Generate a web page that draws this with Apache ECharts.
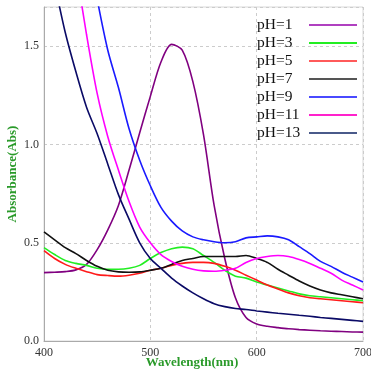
<!DOCTYPE html>
<html>
<head>
<meta charset="utf-8">
<script src="https://cdn.jsdelivr.net/npm/echarts@6/dist/echarts.min.js"></script>
<style>
  html, body { margin: 0; padding: 0; background: #fff; }
  #chart { width: 371px; height: 370px; }
</style>
</head>
<body>
<div id="chart"></div>
<script>
// wavelength grid (nm), every 10 nm
const wavelengths = [400, 410, 420, 430, 440, 450, 460, 470, 480, 490, 500, 510, 520, 530, 540, 550,
  560, 570, 580, 590, 600, 610, 620, 630, 640, 650, 660, 670, 680, 690, 700]

const xTicks = [400, 500, 600, 700]
const yTicks = [0.0, 0.5, 1.0, 1.5]

// absorbance per pH (null = above the frame, not visible)
const ph1 = [0.348, 0.35, 0.353, 0.362, 0.39, 0.465, 0.566, 0.69, 0.87, 1.06, 1.245, 1.42, 1.51, 1.48, 1.32, 1.05,
  0.69, 0.42, 0.22, 0.12, 0.087, 0.075, 0.068, 0.062, 0.058, 0.055, 0.052, 0.05, 0.048, 0.046, 0.045]
const ph3 = [0.475, 0.44, 0.41, 0.395, 0.385, 0.37, 0.365, 0.365, 0.37, 0.385, 0.42, 0.45, 0.47, 0.478, 0.47, 0.435,
  0.4, 0.36, 0.33, 0.32, 0.3, 0.285, 0.27, 0.255, 0.24, 0.23, 0.225, 0.22, 0.215, 0.21, 0.205]
const ph5 = [0.46, 0.42, 0.39, 0.37, 0.353, 0.338, 0.333, 0.33, 0.335, 0.345, 0.36, 0.37, 0.385, 0.395, 0.4, 0.4,
  0.395, 0.38, 0.36, 0.335, 0.31, 0.285, 0.265, 0.245, 0.23, 0.22, 0.215, 0.21, 0.205, 0.2, 0.195]
const ph7 = [0.555, 0.515, 0.475, 0.445, 0.41, 0.38, 0.36, 0.352, 0.35, 0.352, 0.36, 0.37, 0.39, 0.41, 0.42, 0.43,
  0.43, 0.43, 0.43, 0.435, 0.42, 0.4, 0.365, 0.335, 0.305, 0.28, 0.26, 0.245, 0.235, 0.225, 0.215]
const ph9 = [null, null, null, null, null, 1.74, 1.48, 1.29, 1.08, 0.92, 0.79, 0.68, 0.61, 0.56, 0.53, 0.515,
  0.505, 0.5, 0.505, 0.525, 0.53, 0.535, 0.53, 0.515, 0.48, 0.445, 0.405, 0.38, 0.35, 0.325, 0.3]
const ph11 = [null, null, null, 1.9, 1.56, 1.26, 1.04, 0.87, 0.71, 0.58, 0.5, 0.44, 0.405, 0.38, 0.365, 0.357,
  0.355, 0.36, 0.37, 0.4, 0.42, 0.43, 0.435, 0.43, 0.415, 0.395, 0.37, 0.345, 0.31, 0.285, 0.26]
const ph13 = [null, 1.82, 1.57, 1.37, 1.19, 1.055, 0.9, 0.745, 0.62, 0.5, 0.42, 0.37, 0.32, 0.28, 0.245, 0.215,
  0.19, 0.175, 0.165, 0.16, 0.153, 0.147, 0.141, 0.136, 0.131, 0.126, 0.12, 0.115, 0.11, 0.105, 0.1]

const seriesNames = ['pH=1', 'pH=3', 'pH=5', 'pH=7', 'pH=9', 'pH=11', 'pH=13']
const seriesValues = [ph1, ph3, ph5, ph7, ph9, ph11, ph13]
const lineColors = ['#800080', '#22ee22', '#ff1a1a', '#111111', '#1a1aff', '#ff00ff', '#0a0a66']
const legendColors = ['#b040c0', '#22ee22', '#ff5a5a', '#555555', '#4a4aff', '#ff22cc', '#4a5a8a']

const serif = 'Liberation Serif'

const myChart = echarts.init(document.getElementById('chart'))

const series = seriesNames.map((name, i) => ({
  name: name,
  type: 'line',
  symbol: 'none',
  smooth: 0.3,
  clip: true,
  connectNulls: false,
  lineStyle: { color: lineColors[i], width: 1.6 },
  itemStyle: { color: lineColors[i] },
  data: wavelengths.map((w, k) => [w, seriesValues[i][k]])
}))

const option = {
  animation: false,
  grid: {
    left: 44, right: 8, top: 7, bottom: 29,
    outerBoundsMode: 'none',
    containLabel: false,
    show: true, borderColor: '#d8d8d8', borderWidth: 1
  },
  legend: {
    orient: 'vertical',
    left: 257,
    top: 17,
    padding: 0,
    align: 'right',
    icon: 'rect',
    itemWidth: 48,
    itemHeight: 2,
    itemGap: 2,
    formatter: name => '{t|' + name + '}',
    textStyle: {
      fontFamily: serif, fontSize: 15.5, color: '#111',
      rich: { t: { fontFamily: serif, fontSize: 15.5, color: '#111', width: 47, align: 'left', lineHeight: 16.5 } }
    },
    data: seriesNames.map((n, i) => ({ name: n, itemStyle: { color: legendColors[i] } }))
  },
  xAxis: {
    type: 'value',
    min: 400, max: 700, interval: 100,
    name: 'Wavelength(nm)',
    nameLocation: 'middle',
    nameGap: 15,
    nameMoveOverlap: false,
    nameTextStyle: { fontFamily: serif, fontSize: 13, fontWeight: 'bold', color: '#2a9a2a', padding: [0, 23, 0, 0] },
    axisLine: { lineStyle: { color: '#aaa' } },
    axisTick: { show: false },
    axisLabel: {
      fontFamily: serif, fontSize: 12, color: '#333', margin: 6,
      formatter: v => xTicks.includes(v) ? String(v) : ''
    },
    splitLine: { show: true, lineStyle: { color: '#ccc', type: [3, 3] } }
  },
  yAxis: {
    type: 'value',
    min: 0, max: 1.7, interval: 0.5,
    name: 'Absorbance(Abs)',
    nameLocation: 'middle',
    nameGap: 25,
    nameMoveOverlap: false,
    nameTextStyle: { fontFamily: serif, fontSize: 13, fontWeight: 'bold', color: '#2a9a2a' },
    axisLine: { show: true, lineStyle: { color: '#aaa' } },
    axisTick: { show: false },
    axisLabel: {
      fontFamily: serif, fontSize: 12, color: '#333', margin: 5,
      formatter: v => yTicks.some(t => Math.abs(t - v) < 1e-6) ? v.toFixed(1) : ''
    },
    splitLine: { show: true, lineStyle: { color: '#ccc', type: [3, 3] } }
  },
  series: series
}

myChart.setOption(option)
</script>
</body>
</html>
